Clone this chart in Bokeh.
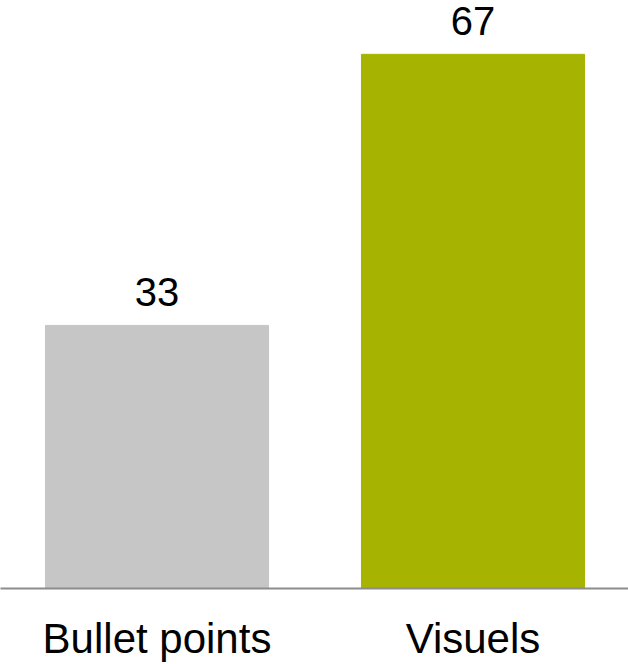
from bokeh.plotting import figure
from bokeh.models import Range1d, FixedTicker, ColumnDataSource
from bokeh.core.properties import value
from bokeh.embed import file_html
from bokeh.resources import INLINE

categories = ["Bullet points", "Visuels"]
values = [33, 67]
colors = ["#C6C6C6", "#A6B300"]

xs = list(range(len(categories)))
src = ColumnDataSource(dict(x=xs, top=values, color=colors,
                            label=[str(v) for v in values]))

p = figure(width=628, height=664, output_backend="svg", toolbar_location=None,
           x_range=Range1d(-0.4953, 1.4921), y_range=Range1d(0, 73.75),
           y_axis_location=None, min_border_left=0, min_border_right=0,
           min_border_top=0, min_border_bottom=74)
p.outline_line_color = None
p.xgrid.visible = False
p.ygrid.visible = False

p.vbar(x="x", top="top", bottom=0, width=0.706, color="color", source=src)
p.text(x="x", y="top", text="label", source=src, text_align="center",
       text_baseline="bottom", y_offset=-19, text_font=value("Liberation Sans"),
       text_font_size="40px", text_color="#000000")

ax = p.xaxis[0]
ax.ticker = FixedTicker(ticks=xs)
ax.major_label_overrides = {i: c for i, c in zip(xs, categories)}
ax.major_label_text_font = "Liberation Sans"
ax.major_label_text_font_size = "42px"
ax.major_label_text_color = "#000000"
ax.major_label_standoff = 20
ax.major_tick_line_color = None
ax.minor_tick_line_color = None
ax.axis_line_color = "#8C8C8C"
ax.axis_line_width = 2

open("out.html", "w").write(file_html(p, INLINE))
